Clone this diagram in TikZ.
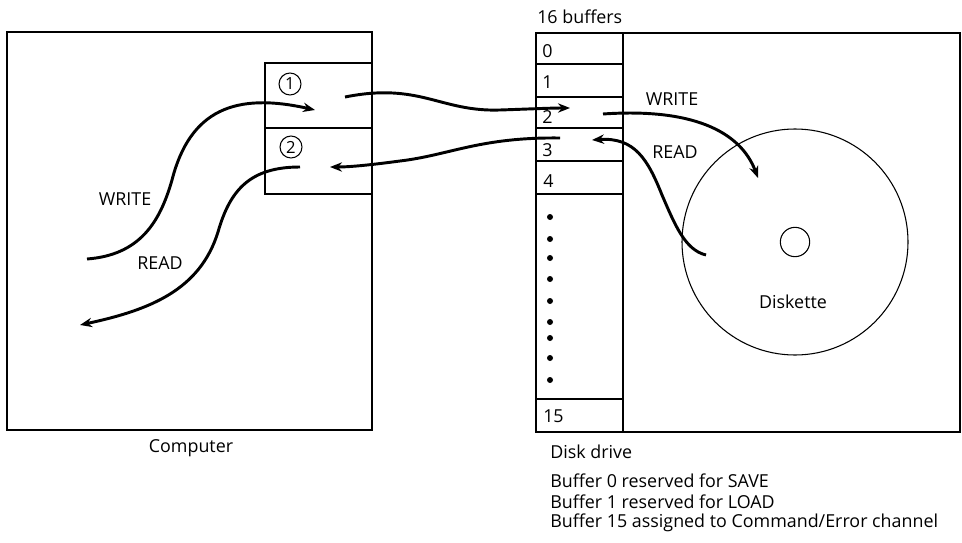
\documentclass[tikz,border=0pt]{standalone}
\usepackage{fontspec}
\setmainfont{Open Sans}
\usetikzlibrary{arrows.meta}
\begin{document}
\begin{tikzpicture}[x=0.75pt,y=-0.75pt,
  txt/.style={font=\fontsize{13.4}{15}\selectfont, inner sep=0pt},
  boxline/.style={line width=1.7pt},
  cellline/.style={line width=1pt},
  flow/.style={line width=2.2pt, -{Stealth[length=9pt,width=7pt]}},
  dotmark/.style={circle, fill, inner sep=0pt, minimum size=4.5pt},
  numcirc/.style={circle, draw, line width=0.8pt, inner sep=0pt, minimum size=16.5pt, font=\fontsize{12.5}{13}\selectfont}]
\useasboundingbox (0,0) rectangle (962,542);
% Computer
\draw[boxline] (7,32) rectangle (372,430);
\draw[line width=2.2pt] (372,32) -- (372,430);
\draw[cellline] (265,63) rectangle (372,194);
\draw[cellline] (265,128) -- (372,128);
\node[numcirc] (c1) at (290,84) {1};
\node[numcirc] (c2) at (291,147) {2};
\node[txt] (computer) at (191,448) {Computer};
% Disk drive
\draw[boxline] (536,33) rectangle (960,432);
\draw[cellline] (623,33) -- (623,432);
\foreach \yy in {64,97,128,161,194,399} \draw[cellline] (536,\yy) -- (623,\yy);
\node[txt, anchor=west] (b0) at (542,51) {0};
\node[txt, anchor=west] (b1) at (542,82) {1};
\node[txt, anchor=west] (b2) at (542,117) {2};
\node[txt, anchor=west] (b3) at (542,150) {3};
\node[txt, anchor=west] (b4) at (543,181) {4};
\node[txt, anchor=west] (b15) at (543,416) {15};
\foreach \yy [count=\i] in {217,239,258,279,301,322,338,358,380}
  \node[dotmark] (dot\i) at (550,\yy) {};
\node[txt, anchor=west] (sixteen) at (537,17) {16 buffers};
% Diskette
\node[circle, draw, line width=0.8pt, minimum size=169.5pt, inner sep=0pt] (disk) at (795,242) {};
\node[circle, draw, line width=0.8pt, minimum size=22pt, inner sep=0pt] (hub) at (795,242) {};
\node[txt] (diskette) at (793,302) {Diskette};
% Labels
\node[txt] (cw) at (125,199) {WRITE};
\node[txt] (cr) at (160,263) {READ};
\node[txt] (dw) at (672,99) {WRITE};
\node[txt] (dr) at (675,152) {READ};
\node[txt, anchor=west] (dd) at (550,452) {Disk drive};
\node[txt, anchor=west] (n0) at (550,481) {Buffer 0 reserved for SAVE};
\node[txt, anchor=west] (n1) at (550,502) {Buffer 1 reserved for LOAD};
\node[txt, anchor=west] (n15) at (550,523) {Buffer 15 assigned to Command/Error channel};
% Arrow end points
\coordinate (cwS) at (87,259);
\coordinate (cwM) at (172,180);
\coordinate (cwE) at (315,110);
\coordinate (crS) at (300,167);
\coordinate (crM) at (218,232);
\coordinate (crE) at (80,325);
\coordinate (mtS) at (345,97);
\coordinate (mtM) at (500,110);
\coordinate (mtE) at (570,108);
\coordinate (mbS) at (560,138);
\coordinate (mbM) at (400,161);
\coordinate (mbE) at (330,167);
\coordinate (dwS) at (603,114);
\coordinate (dwE) at (758,178);
\coordinate (drS) at (706,255);
\coordinate (drM) at (662,195);
\coordinate (drE) at (592,140);
% Arrows
\draw[flow] (cwS) .. controls (140,255) and (160,222) .. (cwM) .. controls (190,110) and (235,92) .. (cwE);
\draw[flow] (crS) .. controls (250,167) and (230,190) .. (crM) .. controls (200,290) and (150,310) .. (crE);
\draw[flow] (mtS) .. controls (420,82) and (440,112) .. (mtM) .. controls (530,109) and (550,108) .. (mtE);
\draw[flow] (mbS) .. controls (480,137) and (450,155) .. (mbM) .. controls (370,165) and (350,167) .. (mbE);
\draw[flow] (dwS) .. controls (690,108) and (740,130) .. (dwE);
\draw[flow] (drS) .. controls (685,250) and (675,225) .. (drM) .. controls (648,160) and (635,137) .. (drE);
\end{tikzpicture}
\end{document}
